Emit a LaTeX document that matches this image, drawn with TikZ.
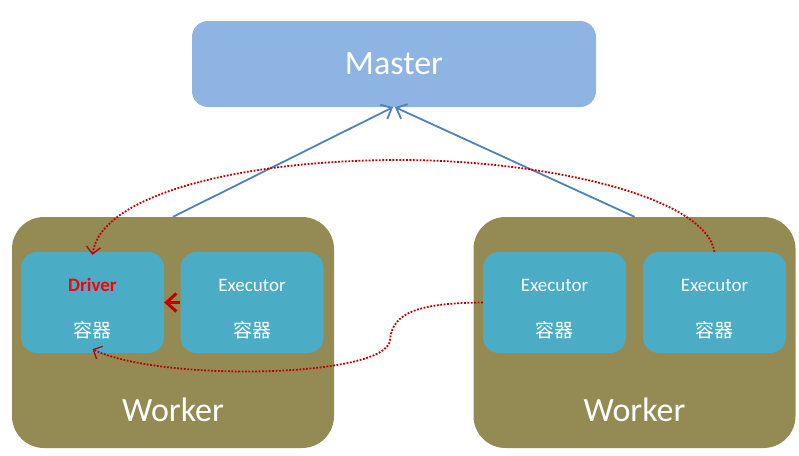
\documentclass[tikz,border=0pt]{standalone}
\usepackage{fontspec}
\setmainfont{Carlito}
\newfontfamily\cjk{Noto Sans CJK SC}
\usetikzlibrary{positioning,arrows.meta}

\definecolor{masterblue}{HTML}{8DB4E2}
\definecolor{workerolive}{HTML}{948A54}
\definecolor{boxteal}{HTML}{4BACC6}
\definecolor{linkblue}{HTML}{4F81BD}
\definecolor{dotred}{HTML}{C00000}

\begin{document}
\begin{tikzpicture}[x=1pt,y=-1pt,
    master/.style={fill=masterblue, rounded corners=16pt, minimum width=404pt,
        minimum height=86pt, text=white, font=\fontsize{34}{38}\selectfont},
    worker/.style={fill=workerolive, rounded corners=32pt, minimum width=322pt,
        minimum height=231pt},
    workertext/.style={text=white, font=\fontsize{34}{38}\selectfont},
    container/.style={fill=boxteal, rounded corners=16pt, minimum width=143pt,
        minimum height=101pt},
    boxtext/.style={text=white, font=\fontsize{19}{22}\selectfont},
    uplink/.style={draw=linkblue, line width=1.8pt,
        -{Straight Barb[length=9pt,width=16pt]}},
    reddots/.style={draw=dotred, line width=1.8pt, dash pattern=on 1.8pt off 1.6pt,
        -{Straight Barb[length=7pt,width=14pt,line width=1.3pt]}}]

\useasboundingbox (0,0) rectangle (799,455);

% Master
\node [master] (master) at (394,64) {Master};

% Workers
\node [worker] (w1) at (173,332.5) {};
\node [worker] (w2) at (634.5,332.5) {};
\node [workertext] (w1text) at (173,410) {Worker};
\node [workertext] (w2text) at (634.5,410) {Worker};

% Containers
\node [container] (driver) at (92.5,302.5) {};
\node [container] (exA) at (252,302.5) {};
\node [container] (exB) at (554.5,302.5) {};
\node [container] (exC) at (714.5,302.5) {};

\foreach \cname/\title in {driver/\textbf{\textcolor{red}{Driver}},
    exA/Executor, exB/Executor, exC/Executor} {
  \node [boxtext] (\cname-title) at ([yshift=17.5pt]\cname.center) {\title};
  \node [boxtext] (\cname-kind) at ([yshift=-27.5pt]\cname.center) {\cjk 容器};
}

% Workers register with the master
\draw [uplink] (w1.north) -- ([xshift=-1pt]master.south);
\draw [uplink] (w2.north) -- ([xshift=1pt]master.south);

% Driver <-> executors
\draw [reddots] (exC.north) .. controls (705,195) and (540,160) .. (400,160)
    .. controls (240,160) and (100,195) .. ([yshift=-3pt]driver.north);
\draw [reddots] (exB.west) .. controls (420,303) and (392,312) .. (390,340)
    .. controls (387,378) and (160,382) .. ([yshift=4pt]driver.south);
\draw [draw=dotred, line width=3pt,
    -{Straight Barb[length=10pt,width=18pt]}] (exA.west) -- (driver.east);

\end{tikzpicture}
\end{document}
